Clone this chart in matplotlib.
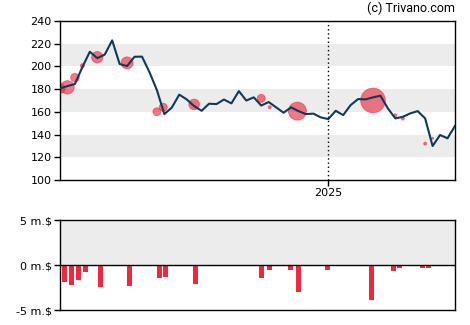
import pandas as pd
import numpy as np
import matplotlib
matplotlib.use("Agg")
import matplotlib.pyplot as plt

# weekly closing prices
start = pd.Timestamp("2024-04-24")
prices = [180.6, 182.6, 184.4, 199.3, 212.8, 207.2, 210.3, 222.8, 202.0, 200.2,
          208.4, 208.5, 194.9, 179.1, 158.0, 163.7, 175.1, 170.9, 165.0, 160.9,
          167.1, 166.8, 170.8, 167.4, 178.2, 169.9, 172.7, 165.5, 168.6, 163.9,
          159.2, 163.9, 160.6, 158.0, 158.4, 155.1, 153.6, 160.9, 157.1, 165.9,
          171.2, 170.9, 172.7, 174.1, 163.0, 154.2, 155.6, 158.6, 160.6, 154.2,
          129.9, 139.6, 136.7, 147.5]
dates = pd.date_range(start, periods=len(prices), freq="7D")

# trade markers (date, price, relative size)
bubble_dates = pd.to_datetime(["2024-04-24", "2024-05-01", "2024-05-08", "2024-05-15",
                               "2024-05-29", "2024-06-26", "2024-07-24", "2024-07-30",
                               "2024-08-28", "2024-10-30", "2024-11-07", "2024-12-03",
                               "2025-02-12", "2025-03-05", "2025-03-12", "2025-04-02",
                               "2025-04-09"])
bubble_prices = [180.6, 181.5, 190.0, 200.5, 208.0, 203.0, 160.0, 164.0, 166.5,
                 171.8, 164.0, 160.6, 170.0, 157.0, 154.0, 132.0, 136.7]
bubble_size = [5.0, 6.7, 4.3, 2.0, 5.7, 6.0, 4.0, 4.0, 5.3,
               4.0, 1.5, 9.0, 12.3, 1.5, 1.5, 1.5, 1.0]

# net trade value (million $)
bar_dates = pd.to_datetime(["2024-04-26", "2024-05-02", "2024-05-09", "2024-05-16",
                            "2024-05-30", "2024-06-26", "2024-07-24", "2024-07-30",
                            "2024-08-27", "2024-10-28", "2024-11-04", "2024-11-24",
                            "2024-12-02", "2024-12-29", "2025-02-08", "2025-03-01",
                            "2025-03-07", "2025-03-28", "2025-04-03"])
bar_values = [-1.84, -2.2, -1.65, -0.72, -2.43, -2.32, -1.42, -1.31, -2.09,
              -1.42, -0.53, -0.53, -2.99, -0.53, -3.89, -0.64, -0.3, -0.3, -0.3]

line_col = "#0e3a5a"
red = "#f0283c"
band = "#ececec"
font = "DejaVu Sans"
plt.rcParams["font.family"] = font

fig = plt.figure(figsize=(4.7, 3.25), dpi=100)
ax = fig.add_axes([0.1277, 0.446, 0.8403, 0.490])
ax2 = fig.add_axes([0.1277, 0.046, 0.8403, 0.276])

xmin, xmax = dates[0], dates[-1]

# price chart
for lo in (120, 160, 200):
    ax.axhspan(lo, lo + 20, color=band, lw=0, zorder=0)
ax.axvline(pd.Timestamp("2025-01-01"), color="black", ls=(0, (1, 2)), lw=1, zorder=1)
ax.scatter(bubble_dates, bubble_prices, s=(2 * np.array(bubble_size) * 0.72) ** 2,
           color="#e8283c", alpha=0.62, edgecolors=red, linewidths=0.6, zorder=2)
ax.plot(dates, prices, color=line_col, lw=1.5, zorder=3)
ax.set_xlim(xmin, xmax)
ax.set_ylim(100, 240)
ax.set_yticks(range(100, 241, 20))
ax.set_xticks([pd.Timestamp("2025-01-01")])
ax.set_xticklabels(["2025"])
ax.tick_params(labelsize=8, length=4, width=1, pad=2, colors="black")
for s in ax.spines.values():
    s.set_linewidth(1)
ax.text(1.0, 1.035, "(c) Trivano.com", transform=ax.transAxes, ha="right",
        va="bottom", fontsize=9, family="Roboto")

# volume chart
ax2.axhspan(0, 5, color=band, lw=0, zorder=0)
ax2.axhline(0, color="black", lw=1, zorder=2)
ax2.bar(bar_dates, bar_values, width=4.7, align="edge", color=red, zorder=1)
ax2.set_xlim(xmin, xmax)
ax2.set_ylim(-5, 5)
ax2.set_yticks([5, 0, -5])
ax2.set_yticklabels(["5 m.$", "0 m.$", "-5 m.$"])
ax2.set_xticks([])
ax2.tick_params(labelsize=8, length=4, width=1, pad=2)
for s in ax2.spines.values():
    s.set_linewidth(1)

fig.savefig("out.png", dpi=100)
